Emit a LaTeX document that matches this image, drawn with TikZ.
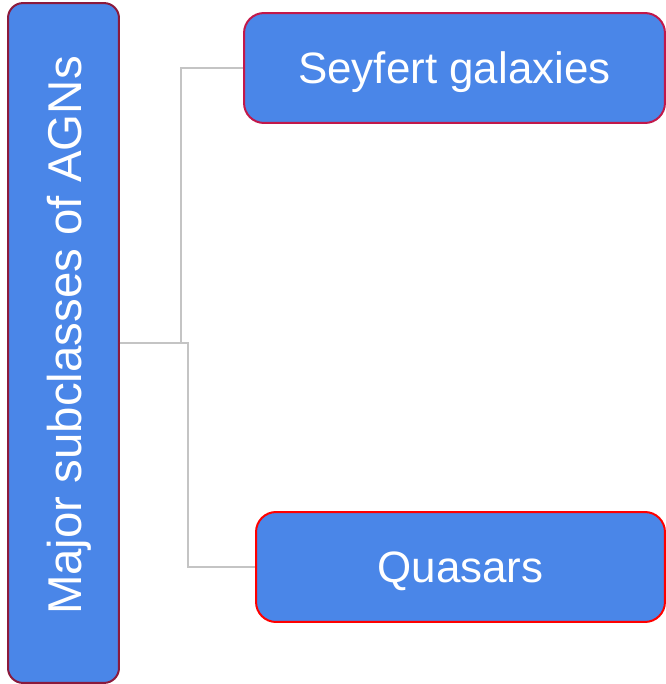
\documentclass[tikz,border=0pt]{standalone}
\usepackage{fontspec}
\setmainfont{Liberation Sans}
\definecolor{boxblue}{HTML}{4A86E8}
\definecolor{rootedge}{HTML}{8B1A3C}
\definecolor{upperedge}{HTML}{C2184A}
\definecolor{loweredge}{HTML}{FF0000}
\definecolor{linkgray}{HTML}{C4C4C4}
\tikzset{classbox/.style = {
    fill = boxblue,
    text = white,
    line width = 0.04cm,
    rounded corners = 0.4cm,
    font = \fontsize{25}{30}\selectfont,
    text height = 0.62cm,
    text depth = 0.02cm,
    inner sep = 0pt
}}
\tikzset{link/.style = {
    linkgray,
    line width = 0.04cm
}}

\begin{document}
\begin{tikzpicture}[x = 0.02cm, y = -0.02cm]
    \useasboundingbox
        (0, 0) rectangle (666, 684)
    ;

    % Boxes
    \node
        [classbox, draw = rootedge, rounded corners = 0.3cm, rotate = 90,
         font = \fontsize{27}{32}\selectfont,
         text height = 0.74cm, text depth = 0cm,
         minimum width = 13.6cm, minimum height = 2.22cm]
        (agn) at (63.5, 343) {\hspace*{0.3cm}Major subclasses of AGNs}
    ;
    \node
        [classbox, draw = upperedge,
         minimum width = 8.42cm, minimum height = 2.2cm]
        (seyfert) at (454.5, 68) {Seyfert galaxies}
    ;
    \node
        [classbox, draw = loweredge,
         minimum width = 8.18cm, minimum height = 2.2cm]
        (quasars) at (460.5, 567) {Quasars}
    ;

    % Links
    \coordinate (upper fork) at (181, 343);
    \coordinate (lower fork) at (188, 343);
    \draw
        [link] (agn.south) -- (upper fork) |- (seyfert.west)
    ;
    \draw
        [link] (agn.south) -- (lower fork) |- (quasars.west)
    ;

\end{tikzpicture}
\end{document}
